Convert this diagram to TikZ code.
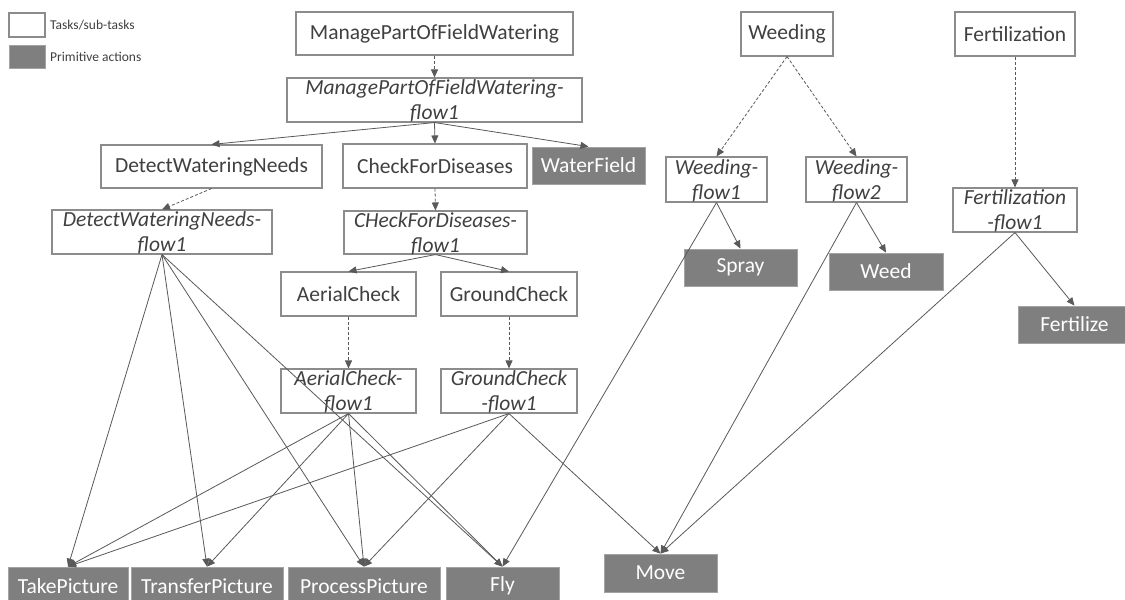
\documentclass[tikz,border=0pt]{standalone}
\usepackage{fontspec}
\setmainfont{Carlito}
\usetikzlibrary{arrows.meta}
\definecolor{txt}{HTML}{404040}
\definecolor{brd}{HTML}{8C8C8C}
\definecolor{primfill}{HTML}{7F7F7F}
\definecolor{ln}{HTML}{595959}
\begin{document}
\begin{tikzpicture}[x=1pt,y=-1pt,
  sz/.style 2 args={minimum width=#1pt, minimum height=#2pt},
  task/.style={draw=brd, line width=1.1pt, fill=white, text=txt, inner sep=0pt,
    font=\fontsize{21.5}{25}\selectfont},
  flowbox/.style={draw=brd, line width=1.1pt, fill=white, inner sep=0pt},
  flowtxt/.style={text=txt, inner sep=0pt, align=center,
    font=\fontsize{21.5}{25}\selectfont\itshape},
  prim/.style={draw=brd!80, line width=0.8pt, fill=primfill, text=white, inner sep=0pt,
    font=\fontsize{21.5}{25}\selectfont},
  legtxt/.style={text=txt, inner sep=0pt, anchor=west, font=\fontsize{13.5}{16}\selectfont},
  conn/.style={draw=ln, line width=0.8pt, -{Triangle[length=8pt,width=7pt]}},
  dconn/.style={conn, dash pattern=on 3pt off 2pt}]
\useasboundingbox[fill=white] (0,0) rectangle (1125,600);

% legend
\node[flowbox, sz={36}{24}] (legT) at (27,25) {};
\node[legtxt] (legTt) at (50,25) {Tasks/sub-tasks};
\node[prim, sz={36}{23}] (legP) at (27,56.5) {};
\node[legtxt] (legPt) at (50,56.5) {Primitive actions};

% task boxes
\node[task, sz={277}{43}] (mp) at (434.5,33.5) {ManagePartOfFieldWatering};
\node[flowbox, sz={295}{44}] (mpf) at (434.5,100) {};
\node[flowtxt] (mpft) at (434.5,101) {ManagePartOfFieldWatering-\\flow1};
\node[task, sz={221}{43}] (dwn) at (211.5,166.5) {DetectWateringNeeds};
\node[task, sz={184}{44}] (cfd) at (435,166) {CheckForDiseases};
\node[prim, sz={113}{37}] (wf) at (588.5,165.5) {WaterField};
\node[flowbox, sz={220}{44}] (dwnf) at (162,232) {};
\node[flowtxt] (dwnft) at (162,233) {DetectWateringNeeds-\\flow1};
\node[flowbox, sz={183}{43}] (cfdf) at (435.5,232.5) {};
\node[flowtxt] (cfdft) at (435.5,233.5) {CHeckForDiseases-\\flow1};
\node[task, sz={135}{44}] (ac) at (348.5,294) {AerialCheck};
\node[task, sz={136}{44}] (gc) at (509,294) {GroundCheck};
\node[flowbox, sz={135}{44}] (acf) at (348.5,391) {};
\node[flowtxt] (acft) at (348.5,392) {AerialCheck-\\flow1};
\node[flowbox, sz={136}{44}] (gcf) at (509,391) {};
\node[flowtxt] (gcft) at (509,392) {GroundCheck\\-flow1};

\node[task, sz={92}{44}] (wd) at (787,34) {Weeding};
\node[task, sz={120}{44}] (fz) at (1015,34) {Fertilization};
\node[flowbox, sz={101}{45}] (wf1) at (716.5,179.5) {};
\node[flowtxt] (wf1t) at (716.5,180.5) {Weeding-\\flow1};
\node[flowbox, sz={101}{45}] (wf2) at (856.5,179.5) {};
\node[flowtxt] (wf2t) at (856.5,180.5) {Weeding-\\flow2};
\node[flowbox, sz={124}{44}] (ff1) at (1015,210) {};
\node[flowtxt] (ff1t) at (1015,211) {Fertilization\\-flow1};

% primitive actions
\node[prim, sz={113}{37}] (spray) at (740.5,267.5) {Spray};
\node[prim, sz={114}{37}] (weed) at (886,271.5) {Weed};
\node[prim, sz={113}{37}] (fert) at (1074.5,324.5) {Fertilize};
\node[prim, sz={113}{38}] (move) at (660.5,573) {Move};
\node[prim, sz={120}{38}] (tp) at (68,586) {TakePicture};
\node[prim, sz={152}{38}] (trp) at (207,586) {TransferPicture};
\node[prim, sz={152}{38}] (pp) at (364,586) {ProcessPicture};
\node[prim, sz={113}{38}] (fly) at (502.5,586) {Fly};

% dashed decompositions
\draw[dconn] (mp.south) -- (mpf.north);
\draw[dconn] (dwn.south) -- (dwnf.north);
\draw[dconn] (cfd.south) -- (cfdf.north);
\draw[dconn] (ac.south) -- (acf.north);
\draw[dconn] (gc.south) -- (gcf.north);
\draw[dconn] (wd.south) -- (wf1.north);
\draw[dconn] (wd.south) -- (wf2.north);
\draw[dconn] (fz.south) -- (ff1.north);

% solid connectors
\draw[conn] (mpf.south) -- (dwn.north);
\draw[conn] (mpf.south) -- (cfd.north);
\draw[conn] (mpf.south) -- (wf.north);
\draw[conn] (cfdf.south) -- (ac.north);
\draw[conn] (cfdf.south) -- (gc.north);
\draw[conn] (wf1.south) -- (spray.north);
\draw[conn] (wf1.south) -- (fly.north);
\draw[conn] (wf2.south) -- (weed.north);
\draw[conn] (wf2.south) -- (move.north);
\draw[conn] (ff1.south) -- (fert.north);
\draw[conn] (ff1.south) -- (move.north);
\draw[conn] (dwnf.south) -- (tp.north);
\draw[conn] (dwnf.south) -- (trp.north);
\draw[conn] (dwnf.south) -- (pp.north);
\draw[conn] (dwnf.south) -- (fly.north);
\draw[conn] (acf.south) -- (tp.north);
\draw[conn] (acf.south) -- (trp.north);
\draw[conn] (acf.south) -- (pp.north);
\draw[conn] (acf.south) -- (fly.north);
\draw[conn] (gcf.south) -- (tp.north);
\draw[conn] (gcf.south) -- (pp.north);
\draw[conn] (gcf.south) -- (move.north);
\end{tikzpicture}
\end{document}
